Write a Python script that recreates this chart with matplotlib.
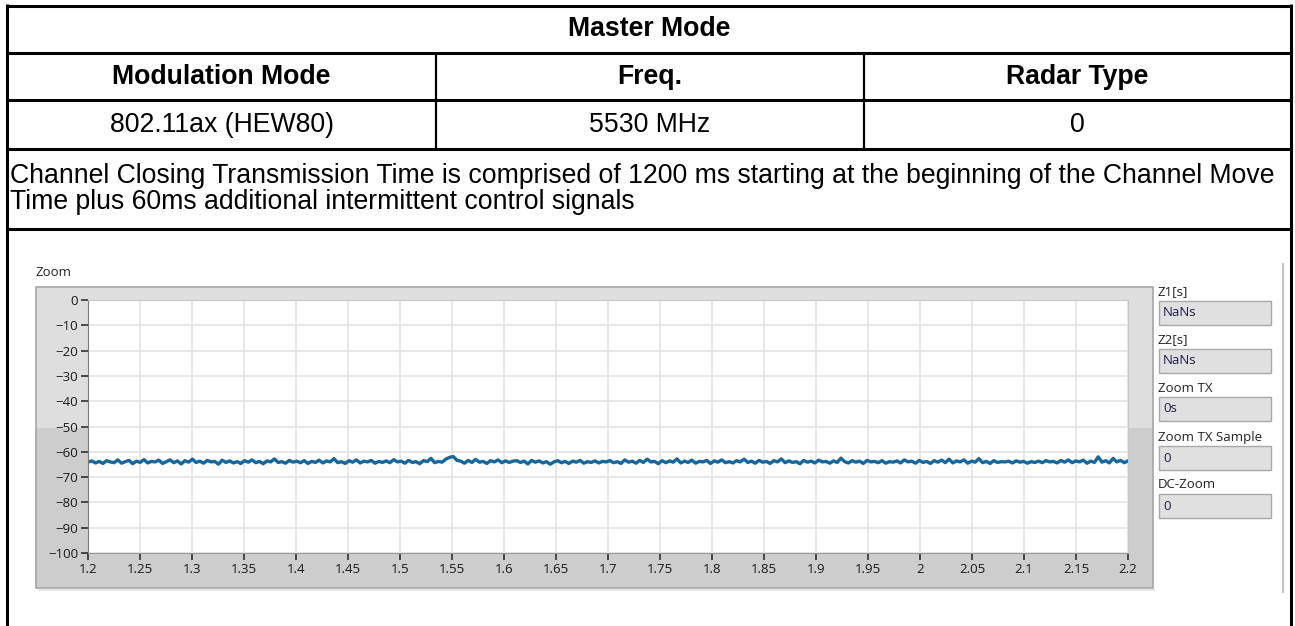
import numpy as np
import matplotlib.pyplot as plt
from matplotlib.lines import Line2D
from matplotlib.patches import Rectangle
from matplotlib.ticker import FuncFormatter, MultipleLocator

W, H = 1295, 626

# Table content
title = 'Master Mode'
headers = ['Modulation Mode', 'Freq.', 'Radar Type']
row_values = ['802.11ax (HEW80)', '5530 MHz', '0']
note_lines = ['Channel Closing Transmission Time is comprised of 1200 ms starting at the beginning of the Channel Move',
              'Time plus 60ms additional intermittent control signals']

# Zoom trace (dB), evenly spaced from 1.2 s to 2.2 s
t_start, t_end = 1.2, 2.2
trace = [
    -64.1, -63.6, -64.4, -63.8, -64.6, -63.5, -64.0, -64.3, -63.2, -64.5, -63.9, -63.4, -64.7, -63.7, -64.2, -63.1, -64.4, -63.8, -64.0, -63.3,
    -64.6, -63.9, -63.2, -64.3, -63.6, -64.8, -63.5, -64.1, -62.9, -64.2, -63.7, -64.5, -63.4, -64.0, -63.8, -64.9, -63.3, -64.2, -63.6, -64.4,
    -63.9, -64.6, -63.5, -64.1, -63.2, -64.3, -63.8, -64.7, -63.6, -64.0, -62.8, -64.2, -63.9, -64.5, -63.4, -64.1, -63.7, -64.3, -63.5, -64.6,
    -63.8, -64.2, -63.3, -64.4, -63.6, -64.0, -62.7, -64.3, -63.9, -64.6, -63.5, -64.1, -63.2, -64.4, -63.7, -64.0, -63.4, -64.5, -63.8, -64.2,
    -63.6, -64.3, -63.1, -64.0, -63.7, -64.5, -63.4, -64.2, -63.9, -64.7, -63.5, -63.9, -62.6, -64.3, -63.8, -64.1, -62.9, -62.2, -61.9, -63.4,
    -63.7, -64.5, -63.4, -64.2, -63.0, -64.1, -63.8, -64.6, -63.5, -64.0, -63.2, -64.3, -63.6, -64.2, -63.7, -63.5, -64.2, -63.7, -64.8, -63.4,
    -64.1, -63.6, -64.4, -63.9, -64.9, -64.0, -63.5, -64.3, -63.8, -64.6, -63.7, -64.1, -63.4, -64.5, -63.9, -64.2, -63.6, -64.4, -63.8, -64.0,
    -63.5, -64.3, -63.9, -64.6, -63.2, -64.1, -63.7, -64.5, -63.4, -64.2, -62.9, -64.0, -63.8, -64.7, -63.5, -64.3, -63.6, -64.1, -62.8, -64.4,
    -63.7, -64.2, -63.3, -64.5, -63.8, -64.0, -63.4, -64.6, -63.6, -64.1, -63.2, -64.3, -63.9, -64.4, -63.5, -64.0, -62.9, -64.2, -63.7, -64.5,
    -63.4, -64.1, -63.8, -64.6, -63.5, -64.0, -62.8, -64.3, -63.6, -64.2, -63.9, -64.7, -63.4, -64.1, -63.7, -64.4, -63.3, -64.0, -63.8, -64.5,
    -63.6, -64.2, -62.5, -63.9, -64.4, -63.5, -64.1, -63.7, -64.6, -63.4, -64.0, -63.8, -64.3, -63.5, -64.5, -63.9, -64.1, -63.6, -64.4, -63.2,
    -64.0, -63.7, -64.5, -63.4, -64.2, -63.8, -64.6, -63.5, -64.1, -63.3, -64.3, -62.9, -64.4, -63.6, -64.0, -63.2, -64.5, -63.7, -64.1, -62.7,
    -64.3, -63.8, -64.6, -63.5, -64.2, -63.9, -64.0, -63.7, -64.4, -63.6, -64.1, -63.8, -64.5, -63.9, -64.2, -63.7, -64.3, -63.5, -64.0, -63.8,
    -64.4, -63.4, -64.1, -63.2, -64.3, -63.6, -64.0, -63.3, -64.5, -63.7, -64.2, -62.0, -64.1, -63.5, -64.4, -62.6, -64.0, -63.4, -64.3, -63.6,
]

# Indicators at the right of the graph
ind_labels = ['Z1[s]', 'Z2[s]', 'Zoom TX', 'Zoom TX Sample', 'DC-Zoom']
ind_values = ['NaNs', 'NaNs', '0s', '0', '0']


def fx(x):
    return x / W


def fy(y):
    return 1 - y / H


def hline(fig, x0, x1, y, lw=2.2, color='black'):
    fig.add_artist(Line2D([fx(x0), fx(x1)], [fy(y), fy(y)], lw=lw, color=color, solid_capstyle='butt'))


def vline(fig, x, y0, y1, lw=2.2, color='black'):
    fig.add_artist(Line2D([fx(x), fx(x)], [fy(y0), fy(y1)], lw=lw, color=color, solid_capstyle='butt'))


def rect(fig, x0, y0, x1, y1, **kw):
    fig.add_artist(Rectangle((fx(x0), fy(y1)), fx(x1 - x0), (y1 - y0) / H, zorder=-1, **kw))


fig = plt.figure(figsize=(W / 100, H / 100), dpi=100)
fig.patch.set_facecolor('white')

# ---- table ----
tfont = 'Liberation Sans'
fs = 19.2
L, R = 7, 1291
hline(fig, L, R, 5.5)
for y in [53, 100, 149, 229]:
    hline(fig, L, R, y)
vline(fig, L, 4, 626)
vline(fig, R, 4, 626)
for x in [436, 864]:
    vline(fig, x, 53, 149, lw=1.6)

fig.text(fx((L + R) / 2), fy(29), title, ha='center', va='center', fontsize=fs, fontweight='bold', family=tfont)
col_centres = [(L + 436) / 2, (436 + 864) / 2, (864 + R) / 2]
for cx, h, v in zip(col_centres, headers, row_values):
    fig.text(fx(cx), fy(77), h, ha='center', va='center', fontsize=fs, fontweight='bold', family=tfont)
    fig.text(fx(cx), fy(125), v, ha='center', va='center', fontsize=fs, family=tfont)
for i, line in enumerate(note_lines):
    fig.text(fx(10), fy(176 + 26 * i), line, ha='left', va='center', fontsize=fs, family=tfont)

# ---- LabVIEW style graph panel ----
lv = ['Open Sans', 'DejaVu Sans']
lfs = 9.5
rect(fig, 36, 287, 1153, 428, facecolor='#dedede', edgecolor='none')
rect(fig, 36, 428, 1153, 588, facecolor='#cdcdcd', edgecolor='none')
rect(fig, 36, 287, 1153, 588, facecolor='none', edgecolor='#a6a6a6', lw=1.2)
hline(fig, 38, 1155, 590, lw=1.5, color='#e6e6e6')
fig.text(fx(36), fy(272), 'Zoom', ha='left', va='center', fontsize=lfs, family=lv, color='#222222')
vline(fig, 1283, 263, 593, lw=1.6, color='#c4c4c4')

ax = fig.add_axes([fx(88), fy(553), fx(1128 - 88), (553 - 300) / H])
ax.set_zorder(5)
ax.set_facecolor('white')
x = np.linspace(t_start, t_end, len(trace))
ax.plot(x, trace, color='#16679d', lw=2.4)
ax.set_xlim(t_start, t_end)
ax.set_ylim(-100, 0)
ax.xaxis.set_major_locator(MultipleLocator(0.05))
ax.yaxis.set_major_locator(MultipleLocator(10))
ax.xaxis.set_major_formatter(FuncFormatter(lambda v, p: '%g' % round(v, 2)))
ax.grid(True, color='#e2e2e2', lw=1.1)
ax.set_axisbelow(True)
ax.tick_params(direction='out', length=5, width=1.1, color='#222222', labelsize=lfs,
               labelcolor='#1a1a1a', pad=2)
for lab in ax.get_xticklabels() + ax.get_yticklabels():
    lab.set_family(lv)
for side in ['top', 'right']:
    ax.spines[side].set_color('#c8c8c8')
ax.spines['left'].set_color('#7a7a7a')
ax.spines['bottom'].set_color('#9a9a9a')

# indicators
label_y = [292, 340, 388, 437, 485]
for ly, lab, val in zip(label_y, ind_labels, ind_values):
    fig.text(fx(1158), fy(ly), lab, ha='left', va='center', fontsize=lfs, family=lv, color='#222222')
    rect(fig, 1159, ly + 9, 1271, ly + 33, facecolor='#e0e0e0', edgecolor='#a8a8a8', lw=1)
    fig.text(fx(1163), fy(ly + 21), val, ha='left', va='center', fontsize=lfs, family=lv, color='#1e1e46')

fig.savefig('out.png', dpi=100)
